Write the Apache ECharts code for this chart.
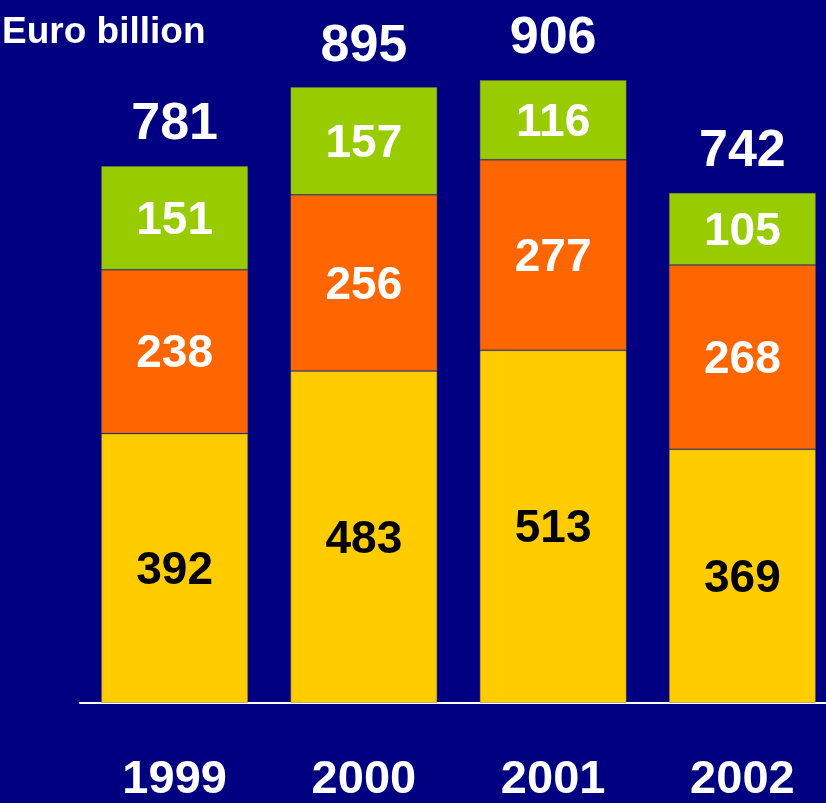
<!DOCTYPE html>
<html>
<head>
<meta charset="utf-8">
<script src="https://cdn.jsdelivr.net/npm/echarts@6/dist/echarts.min.js"></script>
<style>
html,body{margin:0;padding:0;background:#000080;}
#chart{width:826px;height:803px;}
</style>
</head>
<body>
<div id="chart"></div>
<script>
const years = ['1999', '2000', '2001', '2002'];
const yellowValues = [392, 483, 513, 369];
const orangeValues = [238, 256, 277, 268];
const greenValues = [151, 157, 116, 105];
const totalValues = [781, 895, 906, 742];
const unitLabel = 'Euro billion';

const FONT = '"Liberation Sans", Arial, sans-serif';
const chart = echarts.init(document.getElementById('chart'));

function segLabel(color) {
  return {
    show: true,
    position: 'inside',
    offset: [0, 3],
    color: color,
    fontFamily: FONT,
    fontWeight: 'bold',
    fontSize: 46
  };
}
const segBorder = { borderColor: 'rgba(130,110,70,0.45)', borderWidth: 1 };

chart.setOption({
  backgroundColor: '#000080',
  animation: false,
  graphic: [{
    type: 'text',
    left: 2,
    top: 14,
    style: {
      text: unitLabel,
      fill: '#ffffff',
      font: 'bold 37px ' + FONT
    }
  }],
  grid: { left: 80, width: 757, top: 15.4, bottom: 100, containLabel: false, outerBoundsMode: 'none' },
  xAxis: {
    type: 'category',
    data: years,
    axisLine: { show: true, lineStyle: { color: '#ffffff', width: 2 } },
    axisTick: { show: false },
    axisLabel: {
      color: '#ffffff',
      fontFamily: FONT,
      fontWeight: 'bold',
      fontSize: 47,
      lineHeight: 47,
      margin: 54
    }
  },
  yAxis: {
    type: 'value',
    min: 0,
    max: 1000,
    show: false,
    splitLine: { show: false }
  },
  series: [
    {
      type: 'bar', stack: 'a', data: yellowValues, barWidth: 147,
      itemStyle: Object.assign({ color: '#FFCC00' }, segBorder), label: segLabel('#000000')
    },
    {
      type: 'bar', stack: 'a', data: orangeValues, barWidth: 147,
      itemStyle: Object.assign({ color: '#FF6600' }, segBorder), label: segLabel('#ffffff')
    },
    {
      type: 'bar', stack: 'a', data: greenValues, barWidth: 147,
      itemStyle: Object.assign({ color: '#99CC00' }, segBorder), label: segLabel('#ffffff')
    },
    {
      type: 'bar', data: totalValues, barWidth: 147, barGap: '-100%', silent: true, z: 1,
      itemStyle: { color: 'rgba(0,0,0,0)' },
      label: {
        show: true, position: 'top', distance: 15,
        color: '#ffffff', fontFamily: FONT, fontWeight: 'bold', fontSize: 52, lineHeight: 52
      }
    }
  ]
});
</script>
</body>
</html>
